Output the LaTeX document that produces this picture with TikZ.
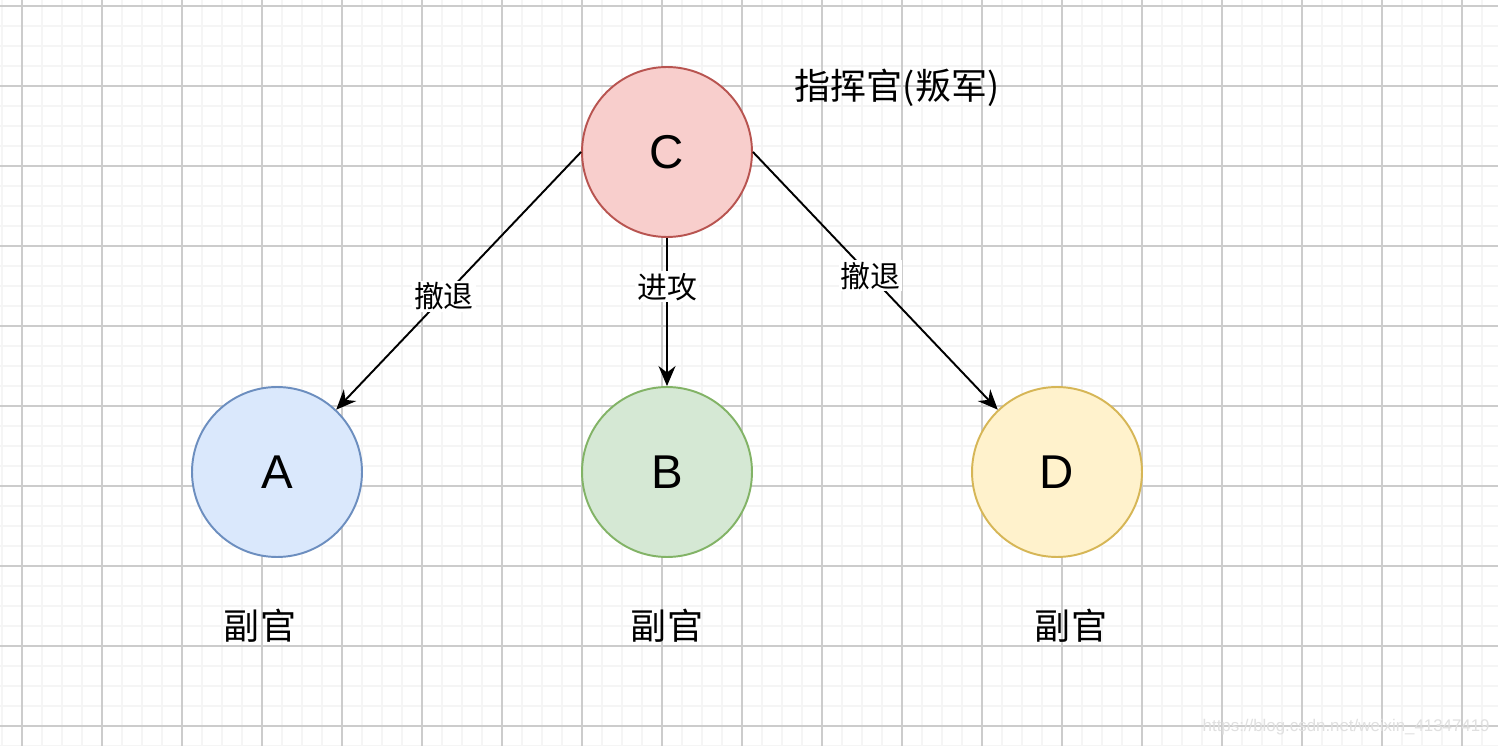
\documentclass[tikz,border=0pt]{standalone}
\usepackage{fontspec}
\setmainfont{Liberation Sans}
\newfontfamily\cjk{Noto Sans CJK SC}
\usepackage{xcolor}
\usetikzlibrary{arrows.meta, positioning}
\definecolor{redfill}{HTML}{F8CECC}
\definecolor{reddraw}{HTML}{B85450}
\definecolor{bluefill}{HTML}{DAE8FC}
\definecolor{bluedraw}{HTML}{6C8EBF}
\definecolor{greenfill}{HTML}{D5E8D4}
\definecolor{greendraw}{HTML}{82B366}
\definecolor{yellowfill}{HTML}{FFF2CC}
\definecolor{yellowdraw}{HTML}{D6B656}
\tikzset{
    agent/.style={circle, draw, line width=1.1pt, inner sep=0pt, minimum size=3.4cm,
        font=\fontsize{27}{30}\selectfont},
    redagent/.style={agent, fill=redfill, draw=reddraw},
    blueagent/.style={agent, fill=bluefill, draw=bluedraw},
    greenagent/.style={agent, fill=greenfill, draw=greendraw},
    yellowagent/.style={agent, fill=yellowfill, draw=yellowdraw},
    order/.style={-{Stealth[length=4mm, width=3.4mm]}, line width=1.1pt},
    orderlabel/.style={fill=white, inner sep=1pt, font=\cjk\fontsize{17}{19}\selectfont},
    rolelabel/.style={font=\cjk\fontsize{20.5}{23}\selectfont},
    minorgrid/.style={draw=black!4, line width=1.1pt},
    majorgrid/.style={draw=black!20, line width=0.6pt},
}
\begin{document}
\begin{tikzpicture}[x=0.02cm, y=-0.02cm]
    \useasboundingbox (0,0) rectangle (1498,746);
    % background grid
    \fill[white] (0,0) rectangle (1498,746);
    \foreach \gx in {2,22,...,1498} {\draw[minorgrid] (\gx,0) -- (\gx,746);}
    \foreach \gy in {6,26,...,746} {\draw[minorgrid] (0,\gy) -- (1498,\gy);}
    \foreach \gx in {22,102,...,1498} {\draw[majorgrid] (\gx,0) -- (\gx,746);}
    \foreach \gy in {6,86,...,746} {\draw[majorgrid] (0,\gy) -- (1498,\gy);}

    \node[redagent] (C) at (667,152) {C};
    \node[blueagent] (A) at (277,472) {A};
    \node[greenagent] (B) at (667,472) {B};
    \node[yellowagent] (D) at (1057,472) {D};

    \node[rolelabel] (cmd) at (897,88) {指挥官(叛军)};
    \node[rolelabel] (subA) at (260,626) {副官};
    \node[rolelabel] (subB) at (667,626) {副官};
    \node[rolelabel] (subD) at (1071,626) {副官};

    \draw[order] (C.west) -- node[orderlabel, pos=0.56] (retreatA) {撤退} (A);
    \draw[order] (C.south) -- node[orderlabel, pos=0.33] (attackB) {进攻} (B.north);
    \draw[order] (C.east) -- node[orderlabel, pos=0.48] (retreatD) {撤退} (D);

    \node[text=black!12, font=\fontsize{9.6}{11}\selectfont, anchor=east, inner sep=0pt] (mark) at (1490,727) {https://blog.csdn.net/weixin\_41347419};
\end{tikzpicture}
\end{document}
